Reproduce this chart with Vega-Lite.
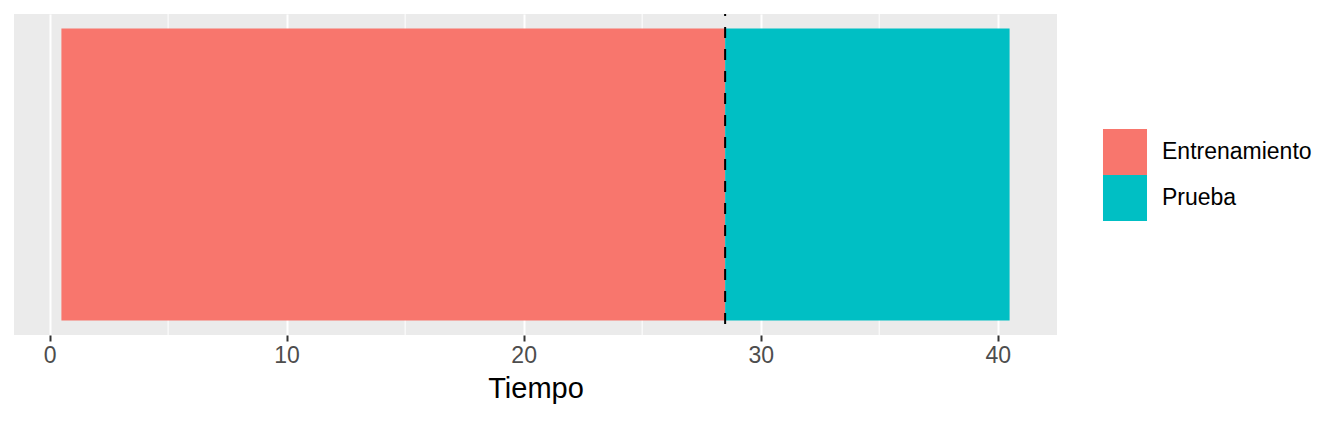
{
  "$schema": "https://vega.github.io/schema/vega-lite/v6.json",
  "autosize": {"type": "none"},
  "padding": {"left": 14, "top": 14, "right": 287, "bottom": 87},
  "width": 1043,
  "height": 321,
  "background": "white",
  "config": {
    "font": "Liberation Sans",
    "view": {"fill": "#ebebeb", "stroke": null}
  },
  "layer": [
    {
      "data": {"values": [{"minor": 5}, {"minor": 15}, {"minor": 25}, {"minor": 35}]},
      "mark": {"type": "rule", "color": "white", "strokeWidth": 1},
      "encoding": {
        "x": {"field": "minor", "type": "quantitative", "scale": {"domain": [-1.5, 42.5], "nice": false, "zero": false}}
      }
    },
    {
      "data": {
        "values": [
          {"Conjunto": "Entrenamiento", "inicio": 0.5, "fin": 28.5, "abajo": 0.5, "arriba": 1.5},
          {"Conjunto": "Prueba", "inicio": 28.5, "fin": 40.5, "abajo": 0.5, "arriba": 1.5}
        ]
      },
      "mark": {"type": "rect"},
      "encoding": {
        "x": {
          "field": "inicio",
          "type": "quantitative",
          "title": "Tiempo",
          "scale": {"domain": [-1.5, 42.5], "nice": false, "zero": false},
          "axis": {
            "values": [0, 10, 20, 30, 40],
            "grid": true,
            "gridColor": "white",
            "gridWidth": 2,
            "domain": false,
            "tickColor": "#333333",
            "tickSize": 6,
            "tickWidth": 2,
            "labelColor": "#4d4d4d",
            "labelFontSize": 23,
            "labelPadding": 3,
            "titleFontSize": 29,
            "titleFontWeight": "normal",
            "titleColor": "black",
            "titlePadding": 7
          }
        },
        "x2": {"field": "fin"},
        "y": {
          "field": "abajo",
          "type": "quantitative",
          "scale": {"domain": [0.45, 1.55], "nice": false, "zero": false},
          "axis": null
        },
        "y2": {"field": "arriba"},
        "color": {
          "field": "Conjunto",
          "type": "nominal",
          "scale": {"domain": ["Entrenamiento", "Prueba"], "range": ["#F8766D", "#00BFC4"]},
          "legend": {
            "title": null,
            "orient": "none",
            "legendX": 1088,
            "legendY": 115,
            "padding": 0,
            "rowPadding": 0,
            "symbolType": "M-0.957,-1H0.957V1H-0.957Z",
            "symbolSize": 2116,
            "symbolOpacity": 1,
            "symbolStrokeWidth": 0,
            "labelFontSize": 23,
            "labelColor": "black",
            "labelOffset": 14
          }
        }
      }
    },
    {
      "data": {"values": [{"corte": 28.5}]},
      "mark": {"type": "rule", "color": "black", "strokeWidth": 2, "strokeDash": [11, 11], "strokeDashOffset": 9},
      "encoding": {
        "x": {"field": "corte", "type": "quantitative"}
      }
    }
  ]
}
